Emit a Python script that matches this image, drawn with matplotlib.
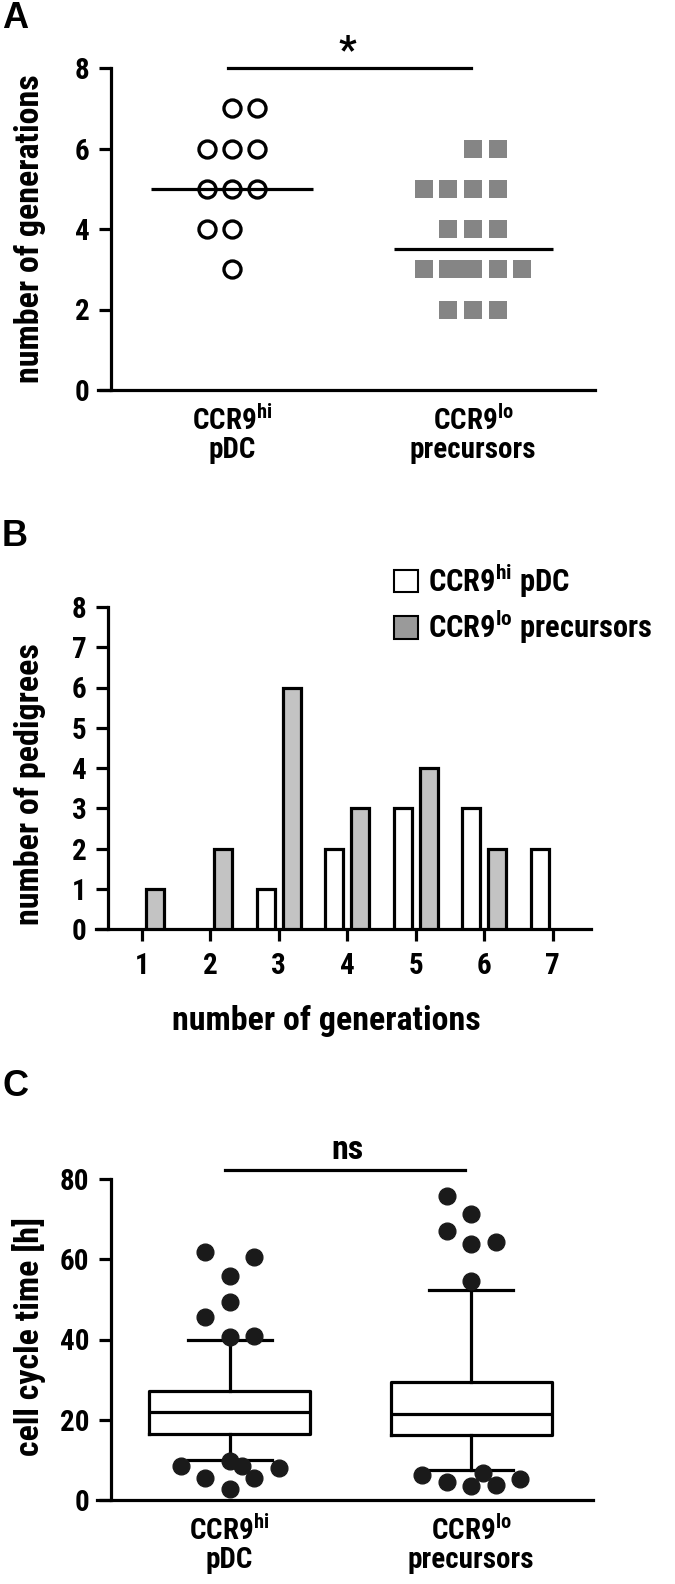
import matplotlib
matplotlib.use("Agg")
import matplotlib.pyplot as plt
from matplotlib.patches import Patch
import numpy as np

# ---------------- data ----------------
groups = ["CCR9$^{\\mathrm{hi}}$\npDC", "CCR9$^{\\mathrm{lo}}$\nprecursors"]

# Panel A: number of generations per pedigree
pdc_generations = [7, 7, 6, 6, 6, 5, 5, 5, 4, 4, 3]
pre_generations = [6, 6, 5, 5, 5, 5, 4, 4, 4, 3, 3, 3, 3, 3, 3, 2, 2, 2]

# Panel B: histogram of generations
generations = [1, 2, 3, 4, 5, 6, 7]
pdc_counts = [0, 0, 1, 2, 3, 3, 2]
pre_counts = [1, 2, 6, 3, 4, 2, 0]

# Panel C: cell cycle time box statistics [h]
pdc_box = dict(med=21.9, q1=16.5, q3=27.1, whislo=9.9, whishi=39.8)
pre_box = dict(med=21.5, q1=16.2, q3=29.5, whislo=7.6, whishi=52.4)
pdc_outliers = [61.9, 60.6, 55.9, 49.3, 45.5, 40.7, 40.9, 8.5, 9.8, 8.5, 8.0, 5.6, 5.4, 2.7]
pre_outliers = [75.7, 71.3, 67.0, 63.9, 64.4, 54.5, 6.3, 4.6, 3.4, 6.7, 3.8, 5.2]

# ---------------- layout (jitter columns) ----------------
pdc_cols_A = [0, 1, -1, 0, 1, -1, 0, 1, -1, 0, 0]
pre_cols_A = [0, 1, -2, -1, 0, 1, -1, 0, 1, -2, -1, -0.5, 0, 1, 2, -1, 0, 1]
pdc_cols_C = [-1, 1, 0, 0, -1, 0, 1, -2, 0, 0.5, 2, -1, 1, 0]
pre_cols_C = [-1, 0, -1, 0, 1, 0, -2, -1, 0, 0.5, 1, 2]

FONT = ['Roboto Condensed', 'Liberation Sans', 'DejaVu Sans']
plt.rcParams['font.family'] = FONT
plt.rcParams['font.weight'] = 'bold'
plt.rcParams['mathtext.fontset'] = 'custom'
plt.rcParams['mathtext.rm'] = 'Roboto Condensed'
plt.rcParams['mathtext.bf'] = 'Roboto Condensed:bold'

W, H = 675, 1584
fig = plt.figure(figsize=(W / 100, H / 100), dpi=100)

LW = 2.3
TICK_FS = 21
TXT_FS = 24.5
LEG_FS = 22
TICKLEN = 8.6


def px_axes(left, right, top, bottom):
    return fig.add_axes([left / W, 1 - bottom / H, (right - left) / W, (bottom - top) / H])


def style(ax, spine_frac):
    for s in ['top', 'right']:
        ax.spines[s].set_visible(False)
    ax.spines['left'].set_position(('axes', spine_frac))
    ax.spines['left'].set_linewidth(LW)
    ax.spines['bottom'].set_linewidth(LW)
    ax.tick_params(width=LW, length=TICKLEN, labelsize=TICK_FS, pad=7)
    for lab in ax.get_xticklabels() + ax.get_yticklabels():
        lab.set_fontweight('bold')


# ---------------- Panel A ----------------
axA = px_axes(98, 595, 68, 390)
step = 0.1025
xa1 = 1 + np.array(pdc_cols_A) * step
xa2 = 2 + np.array(pre_cols_A) * step
axA.scatter(xa1, pdc_generations, s=150, facecolors='white', edgecolors='black',
            linewidths=2.4, zorder=3, clip_on=False)
axA.scatter(xa2, pre_generations, s=150, marker='s', color='#858585', linewidths=0,
            zorder=3, clip_on=False)
axA.hlines([np.median(pdc_generations)], 1 - 0.335, 1 + 0.335, color='black', lw=LW, zorder=4)
axA.hlines([np.median(pre_generations)], 2 - 0.33, 2 + 0.33, color='black', lw=LW, zorder=4)
axA.set_xlim(0.444, 2.506)
axA.set_ylim(0, 8)
axA.set_yticks([0, 2, 4, 6, 8])
axA.set_xticks([1, 2])
axA.set_xticklabels(groups, fontsize=TXT_FS, fontweight='bold', linespacing=1.0)
style(axA, 13 / 497)
axA.tick_params(axis='x', length=0, pad=11)
axA.plot([0.983, 1.99], [8, 8], color='black', lw=LW, clip_on=False)
axA.text(1.48, 8.15, '*', ha='center', va='baseline', fontsize=28, fontweight='bold')
axA.set_ylabel('number of generations', fontsize=TXT_FS, fontweight='bold')
axA.yaxis.set_label_coords(-0.104, 0.5)

# ---------------- Panel B ----------------
axB = px_axes(96, 591, 607, 929)
bw = 0.26
g = np.array(generations)
pc = np.array(pdc_counts)
rc = np.array(pre_counts)
mw = pc > 0
mg = rc > 0
axB.bar(g[mw] - 0.19, pc[mw], width=bw, color='white', edgecolor='black', linewidth=LW, zorder=3)
axB.bar(g[mg] + 0.19, rc[mg], width=bw, color='#c3c3c3', edgecolor='black', linewidth=LW, zorder=3)
axB.set_xlim(0.333, 7.559)
axB.set_ylim(0, 8)
axB.set_yticks(range(0, 9))
axB.set_xticks(generations)
style(axB, 12 / 495)
axB.tick_params(axis='x', pad=8)
axB.set_xlabel('number of generations', fontsize=TXT_FS, fontweight='bold')
axB.xaxis.set_label_coords(0.465, -0.235)
axB.set_ylabel('number of pedigrees', fontsize=TXT_FS, fontweight='bold')
axB.yaxis.set_label_coords(-0.100, 0.45)
handles = [Patch(facecolor='white', edgecolor='black', linewidth=1.5),
           Patch(facecolor='#9a9a9a', edgecolor='black', linewidth=1.5)]
fig.legend(handles, ["CCR9$^{\\mathrm{hi}}$ pDC", "CCR9$^{\\mathrm{lo}}$ precursors"],
           loc='upper left', bbox_to_anchor=(394 / W, 1 - 561 / H), frameon=False,
           fontsize=LEG_FS, handlelength=0.8, handleheight=0.75, handletextpad=0.3,
           labelspacing=0.25, borderaxespad=0, borderpad=0)

# ---------------- Panel C ----------------
axC = px_axes(97, 593, 1179, 1500)
stats = [dict(pdc_box, fliers=[], label=''), dict(pre_box, fliers=[], label='')]
axC.bxp(stats, positions=[1, 2], widths=0.667, showfliers=False,
        boxprops=dict(linewidth=LW, color='black'),
        medianprops=dict(linewidth=LW, color='black'),
        whiskerprops=dict(linewidth=LW, color='black'),
        capprops=dict(linewidth=LW, color='black'), capwidths=0.348,
        manage_ticks=False)
stepC = 0.1015
axC.scatter(1 + np.array(pdc_cols_C) * stepC, pdc_outliers, s=145, color='#1a1a1a', zorder=4,
            clip_on=False)
axC.scatter(2 + np.array(pre_cols_C) * stepC, pre_outliers, s=145, color='#1a1a1a', zorder=4,
            clip_on=False)
axC.set_xlim(0.451, 2.505)
axC.set_ylim(0, 80)
axC.set_yticks([0, 20, 40, 60, 80])
axC.set_xticks([1, 2])
axC.set_xticklabels(groups, fontsize=TXT_FS, fontweight='bold', linespacing=1.0)
style(axC, 14 / 496)
axC.tick_params(axis='x', length=0, pad=11)
axC.plot([0.981, 1.975], [82.2, 82.2], color='black', lw=LW, clip_on=False)
axC.text(1.49, 84.9, 'ns', ha='center', va='baseline', fontsize=TXT_FS, fontweight='bold')
axC.set_ylabel('cell cycle time [h]', fontsize=TXT_FS, fontweight='bold')
axC.yaxis.set_label_coords(-0.102, 0.51)

# panel letters
for letter, y in [('A', 19), ('B', 536), ('C', 1087)]:
    fig.text(2 / W, 1 - y / H, letter, fontsize=26, fontweight='bold', va='center', ha='left',
             family=['Liberation Sans', 'DejaVu Sans'])

fig.savefig('out.png', dpi=100)
